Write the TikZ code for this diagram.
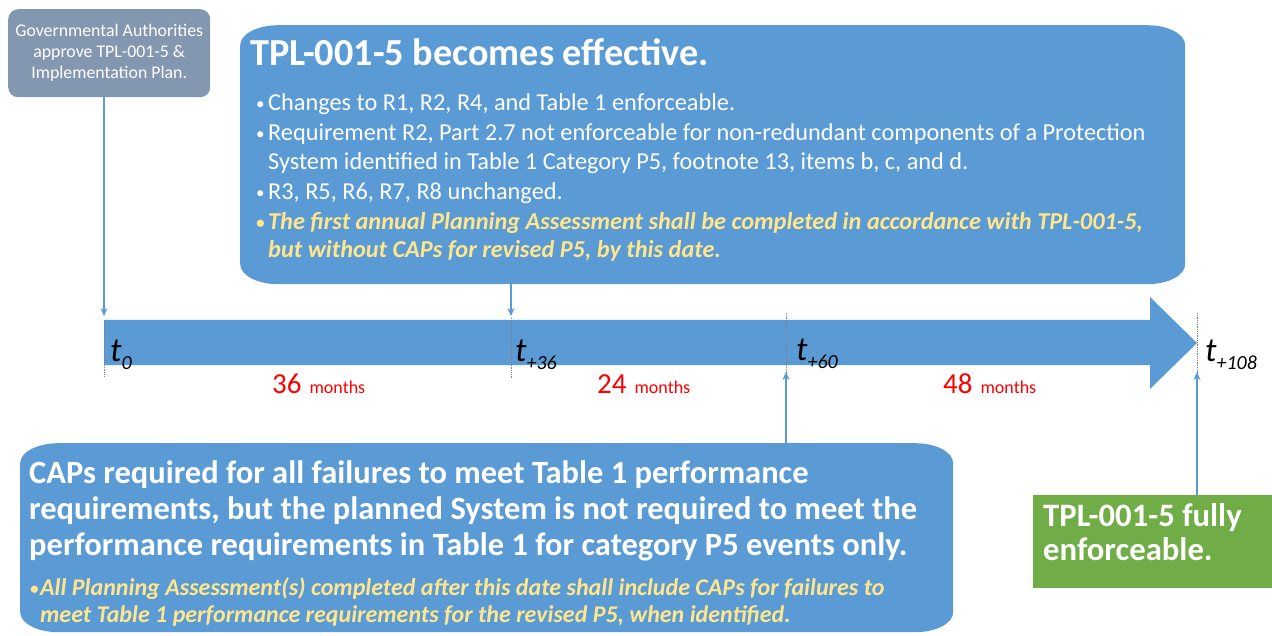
\documentclass[tikz,border=0pt]{standalone}
\usepackage{fontspec}
\setmainfont{Carlito}
\usetikzlibrary{arrows.meta}

\definecolor{boxblue}{RGB}{91,155,213}
\definecolor{govgray}{RGB}{132,151,176}
\definecolor{okgreen}{RGB}{112,173,71}
\definecolor{noteyellow}{RGB}{255,230,140}
\definecolor{monthred}{RGB}{255,0,0}

\newcommand{\fsz}[2]{\fontsize{#1}{#2}\selectfont}
\newcommand{\bulletdot}{\raisebox{1pt}{\fsz{17}{17}\textbullet}}
\newcommand{\bul}{\makebox[12pt][l]{\bulletdot}}
\newcommand{\bulgap}{\hspace*{12pt}}
\newcommand{\yel}{\color{noteyellow}\bfseries\itshape}
\newcommand{\tmark}[1]{{\fsz{34}{34}\itshape t\raisebox{-8pt}{\fsz{20}{20}#1}}}
\newcommand{\monthlabel}[1]{{\fsz{29}{29}#1}\hspace{8pt}{\fsz{18}{18}months}}

\tikzset{
	ovalbox/.style = {rectangle, inner sep = 0pt, path picture = {
		\fill[boxblue] ([yshift = -20pt]path picture bounding box.north west)
			arc[start angle = 180, end angle = 90, x radius = 38pt, y radius = 20pt]
			-- ([xshift = -38pt]path picture bounding box.north east)
			arc[start angle = 90, end angle = 0, x radius = 38pt, y radius = 20pt]
			-- ([yshift = 20pt]path picture bounding box.south east)
			arc[start angle = 0, end angle = -90, x radius = 38pt, y radius = 20pt]
			-- ([xshift = 38pt]path picture bounding box.south west)
			arc[start angle = 270, end angle = 180, x radius = 38pt, y radius = 20pt]
			-- cycle;
	}}
}

\begin{document}
\begin{tikzpicture}[x = 1pt, y = -1pt,
	txt/.style = {anchor = base west, inner sep = 0pt},
	link/.style = {color = boxblue, line width = 2pt, -{Stealth[length = 8pt, width = 7pt]}},
	tickline/.style = {color = gray, densely dotted, line width = 0.8pt}]
	\useasboundingbox (0,0) rectangle (1272,636);

	% time marks on the bar
	\coordinate (t0) at (104,343);
	\coordinate (t36) at (511,343);
	\coordinate (t60) at (786,343);
	\coordinate (t108) at (1197,343);

	\fill[boxblue] (104,320) -- (1150,320) -- (1150,297) -- (t108)
		-- (1150,389) -- (1150,365) -- (104,365) -- cycle;

	\draw[tickline] (104,320) -- (104,376);
	\draw[tickline] (511,318) -- (511,378);
	\draw[tickline] (786,313) -- (786,373);
	\draw[tickline] (1197,313) -- (1197,375);

	\node[txt] (l0) at (110,362) {\tmark{0}};
	\node[txt] (l36) at (515,362) {\tmark{+36}};
	\node[txt] (l60) at (796,360) {\tmark{+60}};
	\node[txt] (l108) at (1205,362) {\tmark{+108}};

	\node[txt, text = monthred] (m36) at (272,393) {\monthlabel{36}};
	\node[txt, text = monthred] (m24) at (597,393) {\monthlabel{24}};
	\node[txt, text = monthred] (m48) at (943,393) {\monthlabel{48}};

	% boxes
	\node[fill = govgray, rounded corners = 10pt, anchor = north west,
		minimum width = 202pt, minimum height = 88pt, inner sep = 0pt,
		text = white, align = center, font = \fsz{17.8}{21}] (gov) at (8,9)
		{Governmental Authorities\\approve TPL-001-5 \&\\Implementation Plan.};

	\node[ovalbox, anchor = north west, minimum width = 945pt, minimum height = 259pt] (effect) at (240,25) {};
	\node[txt, text = white, font = \fsz{38.2}{40}\bfseries] (effecttitle) at (250,66)
		{TPL-001-5 becomes effective.};
	\node[txt, text = white, font = \fsz{24.3}{28.5}] (effectlist) at (256,111)
		{\begin{tabular}[t]{@{}l@{}}
		\bul Changes to R1, R2, R4, and Table 1 enforceable.\\[1.5pt]
		\bul Requirement R2, Part 2.7 not enforceable for non-redundant components of a Protection\\
		\bulgap System identified in Table 1 Category P5, footnote 13, items b, c, and d.\\[1.5pt]
		\bul R3, R5, R6, R7, R8 unchanged.\\[1.5pt]
		\yel\bul The first annual Planning Assessment shall be completed in accordance with TPL-001-5,\\
		\yel\bulgap but without CAPs for revised P5, by this date.
		\end{tabular}};

	\node[ovalbox, anchor = north west, minimum width = 933pt, minimum height = 189pt] (capbox) at (20,443) {};
	\node[txt, text = white, font = \fsz{32.5}{36}\bfseries] (captext) at (29,483)
		{\begin{tabular}[t]{@{}l@{}}
		CAPs required for all failures to meet Table 1 performance\\
		requirements, but the planned System is not required to meet the\\
		performance requirements in Table 1 for category P5 events only.
		\end{tabular}};
	\node[txt, text = noteyellow, font = \fsz{24}{27}\bfseries\itshape] (capnote) at (30,595)
		{\begin{tabular}[t]{@{}l@{}}
		\makebox[10pt][l]{\bulletdot}All Planning Assessment(s) completed after this date shall include CAPs for failures to\\
		\hspace*{10pt}meet Table 1 performance requirements for the revised P5, when identified.
		\end{tabular}};

	\node[fill = okgreen, anchor = north west, minimum width = 239pt, minimum height = 93pt,
		inner sep = 0pt] (fullbox) at (1033,495) {};
	\node[txt, text = white, font = \fsz{32.7}{34}\bfseries] (fulltext) at (1043,526)
		{\begin{tabular}[t]{@{}l@{}}
		TPL-001-5 fully\\
		enforceable.
		\end{tabular}};

	% arrows to the bar
	\draw[link] (gov.south -| t0) -- ([yshift = 27pt]t0);
	\draw[link] (effect.south -| t36) -- ([yshift = 27pt]t36);
	\draw[link] (capbox.north -| t60) -- ([yshift = -29pt]t60);
	\draw[link] (fullbox.north -| t108) -- ([yshift = -29pt]t108);
\end{tikzpicture}
\end{document}
